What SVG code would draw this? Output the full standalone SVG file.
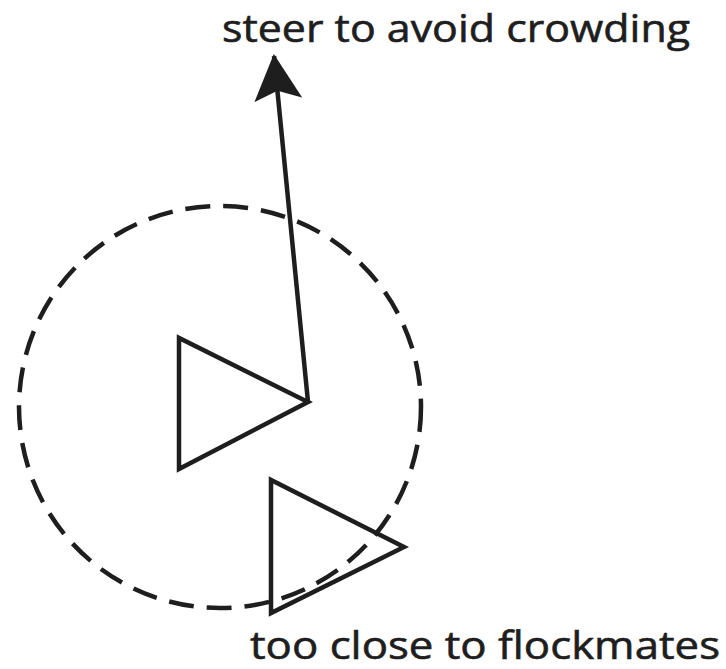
<svg xmlns="http://www.w3.org/2000/svg" width="726" height="669" viewBox="0 0 726 669">
<style>
.ln{fill:none;stroke:#1e1e1e;stroke-width:4.5;stroke-linejoin:miter}
.dash{fill:none;stroke:#1e1e1e;stroke-width:4.5;stroke-dasharray:25 13}
.lbl{font-family:"Open Sans","Noto Sans",sans-serif;font-size:38px;fill:#1e1e1e;stroke:#1e1e1e;stroke-width:0.6}
</style>
<defs>
<marker id="ah" markerUnits="userSpaceOnUse" viewBox="0 0 46 48" markerWidth="46" markerHeight="48" refX="44" refY="24" orient="auto">
<path d="M0,0 L46,24 L0,48 L9,24 z" fill="#1e1e1e"/>
</marker>
</defs>
<rect width="726" height="669" fill="#ffffff"/>
<g id="neighborhood">
<circle class="dash" cx="220" cy="407" r="201"/>
</g>
<g id="boid-main">
<polygon class="ln" points="179,338 179,469 308,402"/>
</g>
<g id="boid-mate">
<polygon class="ln" points="271,480 271,613 404,547"/>
</g>
<g id="connectors">
<line class="ln" x1="308" y1="402" x2="274" y2="56" marker-end="url(#ah)"/>
</g>
<g id="label-steer">
<text class="lbl" x="222" y="42" textLength="468" lengthAdjust="spacingAndGlyphs">steer to avoid crowding</text>
</g>
<g id="label-close">
<text class="lbl" x="250" y="659" textLength="470" lengthAdjust="spacingAndGlyphs">too close to flockmates</text>
</g>
</svg>
